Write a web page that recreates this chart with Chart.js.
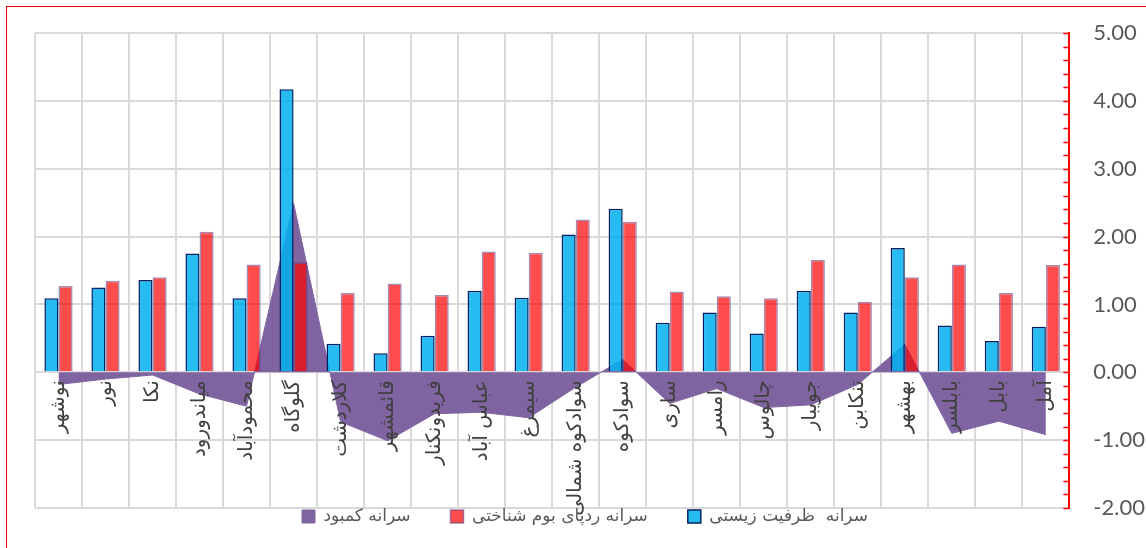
<!DOCTYPE html>
<html>
<head>
<meta charset="utf-8">
<script src="https://cdn.jsdelivr.net/npm/chart.js@4"></script>
<style>
    html, body { margin: 0; padding: 0; background: #fff; overflow: hidden; }
    #frame {
        position: absolute;
        left: 6px;
        top: 6px;
        width: 1170px;
        height: 590px;
        border-left: 1px solid #ff0000;
        border-top: 1px solid #ff0000;
    }
    #chart { position: absolute; left: 1px; top: 1px; }
</style>
</head>
<body>
<div id="frame">
    <canvas id="chart" width="1154" height="571"></canvas>
</div>
<script>
// categories, left to right as in the picture
const cities = [
    "نوشهر", "نور", "نکا", "میاندورود", "محمودآباد", "گلوگاه", "کلاردشت", "قائمشهر",
    "فریدونکنار", "عباس آباد", "سیمرغ", "سوادکوه شمالی", "سوادکوه", "ساری", "رامسر",
    "چالوس", "جویبار", "تنکابن", "بهشهر", "بابلسر", "بابل", "آمل"
];

// سرانه ظرفیت زیستی (blue)
const biocapacity = [1.09, 1.25, 1.36, 1.75, 1.09, 4.17, 0.42, 0.28, 0.54, 1.20, 1.10,
    2.03, 2.41, 0.73, 0.88, 0.57, 1.20, 0.88, 1.83, 0.69, 0.46, 0.67];

// سرانه ردپای بوم شناختی (red)
const footprint = [1.27, 1.35, 1.40, 2.07, 1.59, 1.62, 1.17, 1.31, 1.14, 1.78, 1.76,
    2.25, 2.22, 1.19, 1.12, 1.09, 1.66, 1.04, 1.40, 1.59, 1.17, 1.58];

// سرانه کمبود (purple area)
const deficit = [-0.18, -0.10, -0.04, -0.32, -0.50, 2.49, -0.73, -1.01, -0.61, -0.59, -0.67,
    -0.22, 0.19, -0.46, -0.24, -0.52, -0.48, -0.18, 0.41, -0.90, -0.72, -0.92];

const seriesNames = ["سرانه  ظرفیت زیستی", "سرانه ردپای بوم شناختی", "سرانه کمبود"];

const yMin = -2;
const yMax = 5;

function isWhole(v) {
    return Math.abs(v - Math.round(v)) < 1e-6;
}

// legend sits just under the plot, closer than chart.js puts it
const legendLift = {
    id: "legendLift",
    afterLayout(chart) {
        const lg = chart.legend;
        lg.top -= 40;
        lg.bottom -= 40;
        lg.left -= 5;
        lg.right -= 5;
    }
};

// small red tick marks pointing into the plot along the right axis
const innerTicks = {
    id: "innerTicks",
    afterDraw(chart) {
        const y = chart.scales.y;
        const c = chart.ctx;
        const xr = chart.chartArea.right;
        c.save();
        c.strokeStyle = "#ff0000";
        c.lineWidth = 1.5;
        y.ticks.forEach(t => {
            const py = Math.round(y.getPixelForValue(t.value)) + 0.5;
            c.beginPath();
            c.moveTo(xr - 6, py);
            c.lineTo(xr, py);
            c.stroke();
        });
        c.restore();
    }
};

const ctx = document.getElementById("chart").getContext("2d");
const chart = new Chart(ctx, {
    type: "bar",
    data: {
        labels: cities,
        datasets: [
            {
                label: seriesNames[0],
                data: biocapacity,
                backgroundColor: "rgba(0, 176, 240, 0.85)",
                borderColor: "#002060",
                borderWidth: 1.5,
                order: 1
            },
            {
                label: seriesNames[1],
                data: footprint,
                backgroundColor: "rgba(255, 0, 0, 0.7)",
                borderColor: "rgba(100, 60, 130, 0.6)",
                borderWidth: 1.5,
                order: 1
            },
            {
                type: "line",
                label: seriesNames[2],
                data: deficit,
                backgroundColor: "#8064a2",
                borderColor: "#8064a2",
                borderWidth: 1,
                pointRadius: 0,
                tension: 0,
                fill: "origin",
                order: 2
            }
        ]
    },
    plugins: [legendLift, innerTicks],
    options: {
        responsive: false,
        animation: false,
        devicePixelRatio: 1,
        categoryPercentage: 0.6,
        barPercentage: 1.0,
        layout: {
            padding: { left: 27, top: 25, right: 17, bottom: 4 }
        },
        plugins: {
            tooltip: { enabled: false },
            legend: {
                position: "bottom",
                reverse: true,
                labels: {
                    boxWidth: 13,
                    boxHeight: 13,
                    padding: 40,
                    color: "#595959",
                    font: { family: "DejaVu Sans", size: 17 }
                }
            }
        },
        scales: {
            x: {
                position: { y: 0 },
                offset: true,
                grid: {
                    offset: true,
                    color: "#d9d9d9",
                    lineWidth: 2,
                    drawTicks: false
                },
                border: { display: true, color: "#d9d9d9", width: 2 },
                ticks: {
                    z: 1,
                    autoSkip: false,
                    maxRotation: 90,
                    minRotation: 90,
                    padding: 8,
                    labelOffset: 0,
                    color: "#404040",
                    font: { family: "DejaVu Sans", size: 20 }
                }
            },
            y: {
                position: "right",
                min: yMin,
                max: yMax,
                grid: {
                    color: c => isWhole(c.tick.value) ? "#d9d9d9" : "rgba(0,0,0,0)",
                    lineWidth: 2,
                    tickColor: "rgba(0,0,0,0)",
                    tickLength: 24
                },
                border: { color: "#ff0000", width: 2 },
                ticks: {
                    stepSize: 0.2,
                    autoSkip: false,
                    padding: 0,
                    color: "#595959",
                    font: { family: "Lato", size: 22 },
                    callback: v => isWhole(v) ? Math.round(v).toFixed(2) : ""
                }
            }
        }
    }
});
</script>
</body>
</html>
